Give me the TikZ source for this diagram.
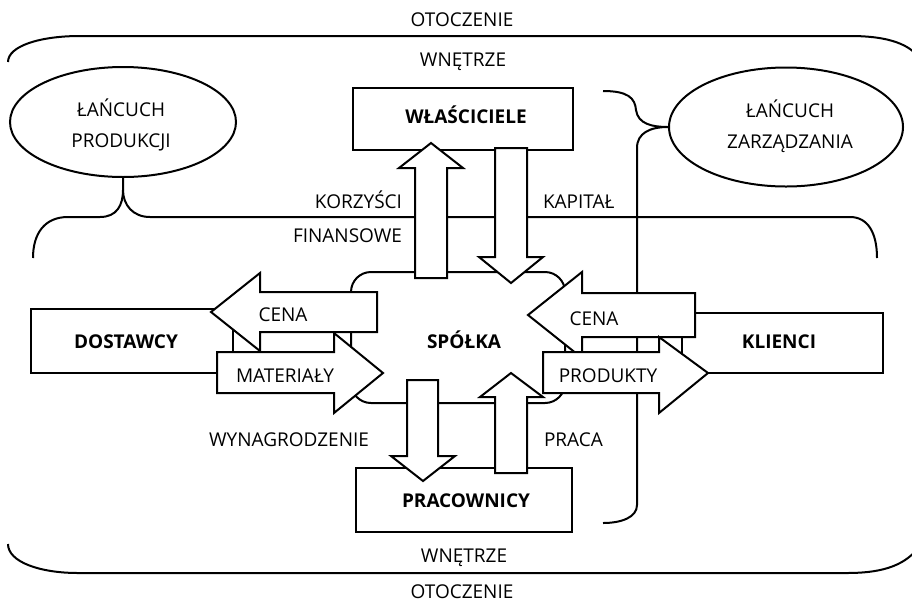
\documentclass[tikz,border=0pt]{standalone}
\usepackage{fontspec}
\setmainfont{Open Sans}
\usetikzlibrary{shapes.geometric}

\begin{document}
\begin{tikzpicture}[x=1pt,y=-1pt,line width=2pt,line join=miter,
  lbl/.style={anchor=base,inner sep=0pt,font=\fontsize{19}{23}\selectfont},
  lblL/.style={lbl,anchor=base west},
  lblR/.style={lbl,anchor=base east},
  hdr/.style={lbl,font=\fontsize{19}{23}\selectfont\bfseries},
  box/.style={draw,fill=white,inner sep=0pt},
  chain/.style={ellipse,draw,fill=white,inner sep=0pt},
  blockarrow/.style={draw,fill=white,line join=miter}]
\clip (0,0) rectangle (912,603);
\fill[white] (0,0) rectangle (912,603);

% outer boundary: environment above and below the interior
\draw (8,62) .. controls (8,46) and (40,36) .. (80,36) -- (850,36)
      .. controls (888,36) and (912,44) .. (922,62);
\draw (8,544) .. controls (8,562) and (40,573) .. (78,573) -- (847,573)
      .. controls (886,573) and (906,564) .. (920,546);

% the two chains
\node[chain,minimum width=226pt,minimum height=110pt] (prod) at (123,122) {};
\node[chain,minimum width=234pt,minimum height=119pt] (mgmt) at (786,127) {};

% brace of the production chain
\draw (33,258) .. controls (33,233) and (45,217) .. (68,217) -- (100,217)
      .. controls (117,217) and (123,205) .. (123,190) -- (prod.south);
\draw (123,190) .. controls (123,205) and (133,217) .. (150,217) -- (850,217)
      .. controls (868,217) and (877,233) .. (877,258);

% brace of the management chain
\draw (603,91) .. controls (628,91) and (635,98) .. (636,110)
      .. controls (638,124) and (652,127) .. (mgmt.west);
\draw (mgmt.west) .. controls (650,127) and (637,133) .. (637,148) -- (637,505)
      .. controls (637,517) and (622,523) .. (603,523);

% stakeholders and the company
\node[box,minimum width=220pt,minimum height=62pt] (own) at (463,119) {};
\node[box,minimum width=202pt,minimum height=64pt] (sup) at (132,341) {};
\node[box,minimum width=201pt,minimum height=60pt] (cli) at (782.5,343) {};
\node[box,minimum width=216pt,minimum height=64pt] (emp) at (464,500) {};
\node[box,rounded corners=20pt,minimum width=214pt,minimum height=131pt] (co) at (458,337.5) {};

% flows between the company and the owners
\draw[blockarrow] (415,278) -- (415,168) -- (399,168) -- (431,143) -- (463,168) -- (447,168) -- (447,278) -- cycle;
\draw[blockarrow] (495,148) -- (495,257) -- (479,257) -- (511,283) -- (543,257) -- (527,257) -- (527,148) -- cycle;

% flows between the company and the suppliers
\draw[blockarrow] (377,292) -- (260,292) -- (260,273) -- (211,312) -- (260,351) -- (260,332) -- (377,332) -- cycle;
\draw[blockarrow] (217,352) -- (334,352) -- (334,333) -- (383,373) -- (334,413) -- (334,393) -- (217,393) -- cycle;

% flows between the company and the clients
\draw[blockarrow] (695,293) -- (582,293) -- (582,272) -- (528,315) -- (582,358) -- (582,337) -- (695,337) -- cycle;
\draw[blockarrow] (543,352) -- (659,352) -- (659,337) -- (708,373) -- (659,413) -- (659,393) -- (543,393) -- cycle;

% flows between the company and the employees
\draw[blockarrow] (407,380) -- (407,456) -- (391,456) -- (423,481) -- (455,456) -- (438,456) -- (438,380) -- cycle;
\draw[blockarrow] (495,473) -- (495,397) -- (480,397) -- (511,373) -- (543,397) -- (527,397) -- (527,473) -- cycle;

% texts
\node[lbl] (envT) at (462,26.5) {OTOCZENIE};
\node[lbl] (inT)  at (463,66) {WNĘTRZE};
\node[lbl] (inB)  at (464,562) {WNĘTRZE};
\node[lbl] (envB) at (462,598) {OTOCZENIE};

\node[lbl] (prod1) at (121,116) {ŁAŃCUCH};
\node[lbl] (prod2) at (121,147) {PRODUKCJI};
\node[lbl] (mgmt1) at (790,117) {ŁAŃCUCH};
\node[lbl] (mgmt2) at (790,148) {ZARZĄDZANIA};

\node[hdr] (ownT) at (466,123) {WŁAŚCICIELE};
\node[hdr] (supT) at (126,348) {DOSTAWCY};
\node[hdr] (coT)  at (464,348) {SPÓŁKA};
\node[hdr] (cliT) at (779,348) {KLIENCI};
\node[hdr] (empT) at (466,507) {PRACOWNICY};

\node[lblR] (benefit1) at (403,208) {KORZYŚCI};
\node[lblR] (benefit2) at (403,242) {FINANSOWE};
\node[lblL] (capital)  at (542,208) {KAPITAŁ};

\node[lbl] (priceS) at (283,321) {CENA};
\node[lbl] (mat)    at (285,382) {MATERIAŁY};
\node[lbl] (priceC) at (594,325) {CENA};
\node[lbl] (prd)    at (608,382) {PRODUKTY};

\node[lbl]  (wage)  at (289,446) {WYNAGRODZENIE};
\node[lblL] (work)  at (543,446) {PRACA};
\end{tikzpicture}
\end{document}
